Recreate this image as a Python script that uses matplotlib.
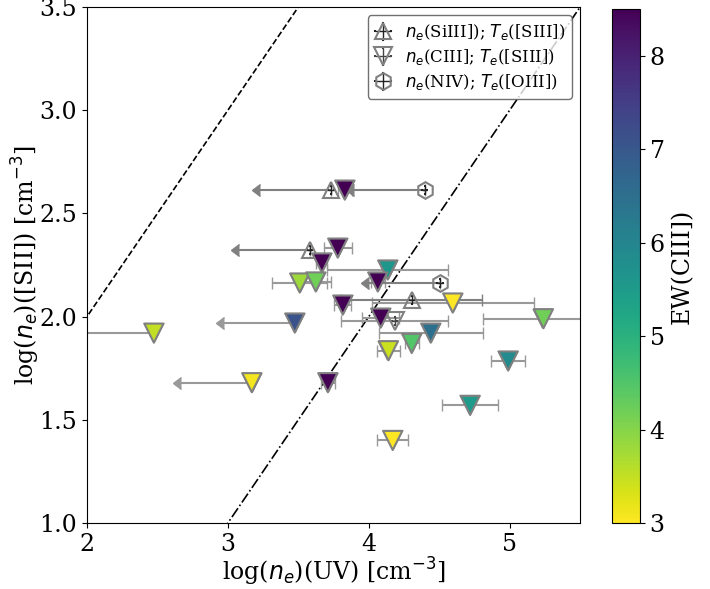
import matplotlib
matplotlib.use('Agg')
import matplotlib.pyplot as plt
import numpy as np

plt.rcParams['font.family'] = 'serif'
plt.rcParams['font.serif'] = ['DejaVu Serif']

# CIII] densities (T_e from [SIII]), coloured by EW(CIII])
ciii_x = [2.475, 3.17, 3.71, 4.17, 4.14, 4.305, 4.44, 4.72, 4.99, 5.24, 4.596,
          4.085, 3.816, 3.475, 3.51, 3.624, 3.667, 3.78, 4.135, 4.064, 3.83, 4.184]
ciii_y = [1.92, 1.68, 1.68, 1.40, 1.835, 1.87, 1.92, 1.57, 1.785, 1.99, 2.066,
          1.993, 2.056, 1.969, 2.163, 2.168, 2.26, 2.332, 2.226, 2.168, 2.613, 1.98]
ciii_xerr = [0.5, 0.5, 0.05, 0.11, 0.08, 0.05, 0.37, 0.2, 0.12, 0.43, 0.575,
             0.13, 0.06, 0.5, 0.195, 0.11, 0.04, 0.1, 0.43, 0.05, 0.05, 0.38]
ciii_uplim = [True, True, False, False, False, False, False, False, False, False, False,
              False, False, True, False, False, False, False, False, False, False, False]
ciii_ew = [3.5, 3.1, 8.5, 3.0, 3.45, 4.5, 6.5, 5.5, 5.9, 4.2, 3.0,
           8.5, 8.5, 7.1, 3.8, 4.2, 8.5, 8.5, 5.6, 8.5, 8.5, np.nan]

# SiIII] densities (T_e from [SIII]), upper limits
siiii_x = [3.73, 3.58, 4.305]
siiii_y = [2.613, 2.323, 2.08]
siiii_uplim = [True, True, False]

# NIV] densities (T_e from [OIII]), upper limits
niv_x = [4.397, 4.504]
niv_y = [2.613, 2.163]

fs = 17
lw = 1.5

fig = plt.figure(figsize=(7.1, 5.89), dpi=100)
ax = fig.add_axes([0.1225, 0.112, 0.6945, 0.876])
cax = fig.add_axes([0.862, 0.112, 0.0394, 0.8727])

line = np.array([1.0, 6.0])
ax.plot(line, line, 'k--', linewidth=1.2)
ax.plot(line, line - 2, 'k-.', linewidth=1.2)

ew = np.array(ciii_ew)
cx = np.array(ciii_x)
cy = np.array(ciii_y)
ok = np.isfinite(ew)

ax.errorbar(cx, cy, xerr=ciii_xerr, xuplims=ciii_uplim, fmt='none', color='#999999',
            ecolor='#999999', elinewidth=lw, capsize=4, zorder=2)
h_ciii = ax.errorbar(cx, cy, xerr=0.02, yerr=0.02, fmt='v', mfc='none', mec='gray',
                     ms=13, mew=1.5, ecolor='#444444', elinewidth=1, capsize=1,
                     zorder=2, label=r'$n_e$(CIII]; $T_e$([SIII])')
sc = ax.scatter(cx[ok], cy[ok], c=ew[ok], cmap='viridis_r', vmin=3, vmax=8.5,
                marker='v', s=190, edgecolors='gray', linewidths=1.5, zorder=3)

ax.errorbar(siiii_x, siiii_y, xerr=0.5, xuplims=siiii_uplim, color='gray',
            fmt='none', ecolor='gray', elinewidth=lw, capsize=4, zorder=2)
h_si = ax.errorbar(siiii_x, siiii_y, xerr=0.02, yerr=0.02, fmt='^', mfc='none',
                   mec='gray', ms=12, mew=1.5, ecolor='#222222', elinewidth=1,
                   capsize=1, zorder=2, label=r'$n_e$(SiIII]); $T_e$([SIII])')

ax.errorbar(niv_x, niv_y, xerr=0.5, xuplims=True, fmt='none', color='gray',
            ecolor='gray', elinewidth=lw, capsize=4, zorder=2)
h_niv = ax.errorbar(niv_x, niv_y, xerr=0.02, yerr=0.02, fmt='h', mfc='none',
                    mec='gray', ms=12, mew=1.5, ecolor='#222222', elinewidth=1,
                    capsize=1, zorder=2, label=r'$n_e$(NIV); $T_e$([OIII])')

ax.set_xlim(2, 5.5)
ax.set_ylim(1, 3.5)
ax.set_xticks([2, 3, 4, 5])
ax.set_yticks([1.0, 1.5, 2.0, 2.5, 3.0, 3.5])
ax.tick_params(labelsize=fs)
ax.set_xlabel(r'log($n_e$)(UV) [cm$^{-3}$]', fontsize=fs, labelpad=0)
ax.set_ylabel(r'log($n_e$)([SII]) [cm$^{-3}$]', fontsize=fs, labelpad=-2)

leg = ax.legend(handles=[h_si, h_ciii, h_niv], loc='upper right', fontsize=12,
                handlelength=1.0, labelspacing=0.3, edgecolor='0.3', framealpha=0.8)

cb = fig.colorbar(sc, cax=cax)
cb.set_ticks([3, 4, 5, 6, 7, 8])
cb.ax.tick_params(labelsize=fs)
cb.set_label('EW(CIII])', fontsize=fs)

plt.savefig('out.png', dpi=100)
